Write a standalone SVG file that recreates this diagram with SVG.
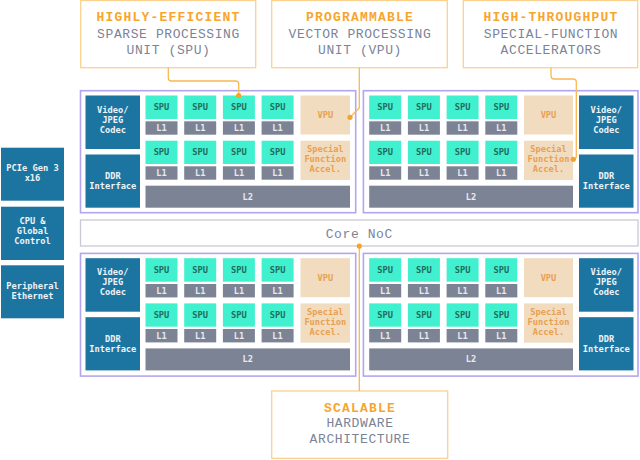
<svg xmlns="http://www.w3.org/2000/svg" width="640" height="460" viewBox="0 0 640 460">
<style>
text{font-family:"Liberation Mono","DejaVu Sans Mono",monospace;text-anchor:middle}
.co{fill:#fff;stroke:#fbd28f;stroke-width:1.3}
.ct{fill:#f7a52e;font-size:13px;font-weight:bold;letter-spacing:1.2px}
.cg{fill:#7b8397;font-size:13px;letter-spacing:0.6px}
.quad{fill:#fff;stroke:#b3a6ef;stroke-width:1.6}
.noc{fill:#fff;stroke:#c8cbd3;stroke-width:1.3}
.blue{fill:#1c75a0}
.bt,.st,.lt,.vt{font-family:"DejaVu Sans Mono","Liberation Mono",monospace;font-size:8.7px;font-weight:bold}
.bt{fill:#eef3f8}
.spu{fill:#40f0cf}
.st{fill:#236b5c}
.l{fill:#7c8394}
.lt{fill:#e8eaef}
.v{fill:#f1dcc0}
.vt{fill:#e9a04f}
.wire{fill:none;stroke:#f9b753;stroke-width:1.3}
.dot{fill:#f7a325}
</style>

<!-- callouts -->
<g id="callout-spu"><rect class="co" x="80.7" y="0.5" width="175" height="67.2"/>
<text class="ct" x="168.5" y="21">HIGHLY-EFFICIENT</text>
<text class="cg" x="168.5" y="37.7">SPARSE PROCESSING</text>
<text class="cg" x="168.5" y="54">UNIT (SPU)</text></g>
<g id="callout-vpu"><rect class="co" x="271.7" y="0.5" width="175.6" height="67.2"/>
<text class="ct" x="360" y="21">PROGRAMMABLE</text>
<text class="cg" x="360" y="37.7">VECTOR PROCESSING</text>
<text class="cg" x="360" y="54">UNIT (VPU)</text></g>
<g id="callout-sfa"><rect class="co" x="463.3" y="0.5" width="174.4" height="67.2"/>
<text class="ct" x="551" y="21">HIGH-THROUGHPUT</text>
<text class="cg" x="551" y="37.7">SPECIAL-FUNCTION</text>
<text class="cg" x="551" y="54">ACCELERATORS</text></g>
<g id="callout-scalable"><rect class="co" x="271.7" y="391" width="176" height="67.3"/>
<text class="ct" x="360" y="411.7">SCALABLE</text>
<text class="cg" x="360" y="427.3">HARDWARE</text>
<text class="cg" x="360" y="443.3">ARCHITECTURE</text></g>

<!-- left blocks -->
<g id="pcie"><rect class="blue" x="1" y="147.7" width="63" height="53"/>
<text class="bt" x="32.5" y="171">PCIe Gen 3</text><text class="bt" x="32.5" y="181">x16</text></g>
<g id="cpu"><rect class="blue" x="1" y="206.7" width="63" height="53.3"/>
<text class="bt" x="32.5" y="223.5">CPU &amp;</text><text class="bt" x="32.5" y="233.5">Global</text><text class="bt" x="32.5" y="243.5">Control</text></g>
<g id="peripheral"><rect class="blue" x="1" y="265.3" width="63" height="53"/>
<text class="bt" x="32.5" y="289">Peripheral</text><text class="bt" x="32.5" y="299">Ethernet</text></g>

<!-- Core NoC -->
<g id="core-noc"><rect class="noc" x="80.5" y="220" width="557.5" height="26"/>
<text class="cg" x="359.3" y="237.7">Core NoC</text></g>

<!-- Quadrant top-left -->
<g id="quad-tl"><rect class="quad" x="80.5" y="90.7" width="275.2" height="122"/></g>
<g id="tl-video"><rect class="blue" x="85.5" y="95.5" width="54.5" height="53.5"/><text class="bt" x="112.8" y="112.5">Video/</text><text class="bt" x="112.8" y="122.5">JPEG</text><text class="bt" x="112.8" y="132.5">Codec</text></g>
<g id="tl-ddr"><rect class="blue" x="85.5" y="154.5" width="54.5" height="53.2"/><text class="bt" x="112.8" y="179">DDR</text><text class="bt" x="112.8" y="189">Interface</text></g>
<g id="tl-spu1"><rect class="spu" x="145.5" y="95.5" width="32" height="23.5"/><text class="st" x="161.5" y="110.2">SPU</text></g>
<g id="tl-spu2"><rect class="spu" x="184.2" y="95.5" width="32" height="23.5"/><text class="st" x="200.2" y="110.2">SPU</text></g>
<g id="tl-spu3"><rect class="spu" x="222.9" y="95.5" width="32" height="23.5"/><text class="st" x="238.9" y="110.2">SPU</text></g>
<g id="tl-spu4"><rect class="spu" x="261.6" y="95.5" width="32" height="23.5"/><text class="st" x="277.6" y="110.2">SPU</text></g>
<g id="tl-l1a"><rect class="l" x="145.5" y="121.3" width="32" height="13.4"/><text class="lt" x="161.5" y="131">L1</text></g>
<g id="tl-l1b"><rect class="l" x="184.2" y="121.3" width="32" height="13.4"/><text class="lt" x="200.2" y="131">L1</text></g>
<g id="tl-l1c"><rect class="l" x="222.9" y="121.3" width="32" height="13.4"/><text class="lt" x="238.9" y="131">L1</text></g>
<g id="tl-l1d"><rect class="l" x="261.6" y="121.3" width="32" height="13.4"/><text class="lt" x="277.6" y="131">L1</text></g>
<g id="tl-spu5"><rect class="spu" x="145.5" y="140.7" width="32" height="23.3"/><text class="st" x="161.5" y="155.3">SPU</text></g>
<g id="tl-spu6"><rect class="spu" x="184.2" y="140.7" width="32" height="23.3"/><text class="st" x="200.2" y="155.3">SPU</text></g>
<g id="tl-spu7"><rect class="spu" x="222.9" y="140.7" width="32" height="23.3"/><text class="st" x="238.9" y="155.3">SPU</text></g>
<g id="tl-spu8"><rect class="spu" x="261.6" y="140.7" width="32" height="23.3"/><text class="st" x="277.6" y="155.3">SPU</text></g>
<g id="tl-l1e"><rect class="l" x="145.5" y="166.3" width="32" height="13.4"/><text class="lt" x="161.5" y="176">L1</text></g>
<g id="tl-l1f"><rect class="l" x="184.2" y="166.3" width="32" height="13.4"/><text class="lt" x="200.2" y="176">L1</text></g>
<g id="tl-l1g"><rect class="l" x="222.9" y="166.3" width="32" height="13.4"/><text class="lt" x="238.9" y="176">L1</text></g>
<g id="tl-l1h"><rect class="l" x="261.6" y="166.3" width="32" height="13.4"/><text class="lt" x="277.6" y="176">L1</text></g>
<g id="tl-vpu"><rect class="v" x="300.5" y="95.5" width="49.5" height="39"/><text class="vt" x="325.3" y="118">VPU</text></g>
<g id="tl-sfa"><rect class="v" x="300.5" y="140.7" width="49.5" height="39.3"/><text class="vt" x="325.3" y="152">Special</text><text class="vt" x="325.3" y="162">Function</text><text class="vt" x="325.3" y="172">Accel.</text></g>
<g id="tl-l2"><rect class="l" x="145.5" y="185.7" width="204.5" height="22"/><text class="lt" x="247.8" y="199.7">L2</text></g>

<!-- Quadrant top-right -->
<g id="quad-tr"><rect class="quad" x="363.4" y="90.7" width="274.6" height="122"/></g>
<g id="tr-spu1"><rect class="spu" x="369.2" y="95.5" width="32" height="23.5"/><text class="st" x="385.2" y="110.2">SPU</text></g>
<g id="tr-spu2"><rect class="spu" x="407.9" y="95.5" width="32" height="23.5"/><text class="st" x="423.9" y="110.2">SPU</text></g>
<g id="tr-spu3"><rect class="spu" x="446.6" y="95.5" width="32" height="23.5"/><text class="st" x="462.6" y="110.2">SPU</text></g>
<g id="tr-spu4"><rect class="spu" x="485.3" y="95.5" width="32" height="23.5"/><text class="st" x="501.3" y="110.2">SPU</text></g>
<g id="tr-l1a"><rect class="l" x="369.2" y="121.3" width="32" height="13.4"/><text class="lt" x="385.2" y="131">L1</text></g>
<g id="tr-l1b"><rect class="l" x="407.9" y="121.3" width="32" height="13.4"/><text class="lt" x="423.9" y="131">L1</text></g>
<g id="tr-l1c"><rect class="l" x="446.6" y="121.3" width="32" height="13.4"/><text class="lt" x="462.6" y="131">L1</text></g>
<g id="tr-l1d"><rect class="l" x="485.3" y="121.3" width="32" height="13.4"/><text class="lt" x="501.3" y="131">L1</text></g>
<g id="tr-spu5"><rect class="spu" x="369.2" y="140.7" width="32" height="23.3"/><text class="st" x="385.2" y="155.3">SPU</text></g>
<g id="tr-spu6"><rect class="spu" x="407.9" y="140.7" width="32" height="23.3"/><text class="st" x="423.9" y="155.3">SPU</text></g>
<g id="tr-spu7"><rect class="spu" x="446.6" y="140.7" width="32" height="23.3"/><text class="st" x="462.6" y="155.3">SPU</text></g>
<g id="tr-spu8"><rect class="spu" x="485.3" y="140.7" width="32" height="23.3"/><text class="st" x="501.3" y="155.3">SPU</text></g>
<g id="tr-l1e"><rect class="l" x="369.2" y="166.3" width="32" height="13.4"/><text class="lt" x="385.2" y="176">L1</text></g>
<g id="tr-l1f"><rect class="l" x="407.9" y="166.3" width="32" height="13.4"/><text class="lt" x="423.9" y="176">L1</text></g>
<g id="tr-l1g"><rect class="l" x="446.6" y="166.3" width="32" height="13.4"/><text class="lt" x="462.6" y="176">L1</text></g>
<g id="tr-l1h"><rect class="l" x="485.3" y="166.3" width="32" height="13.4"/><text class="lt" x="501.3" y="176">L1</text></g>
<g id="tr-vpu"><rect class="v" x="524" y="95.5" width="49" height="39"/><text class="vt" x="548.5" y="118">VPU</text></g>
<g id="tr-sfa"><rect class="v" x="524" y="140.7" width="49" height="39.3"/><text class="vt" x="548.5" y="152">Special</text><text class="vt" x="548.5" y="162">Function</text><text class="vt" x="548.5" y="172">Accel.</text></g>
<g id="tr-l2"><rect class="l" x="369.2" y="185.7" width="203.8" height="22"/><text class="lt" x="471.1" y="199.7">L2</text></g>
<g id="tr-video"><rect class="blue" x="579" y="95.5" width="54.5" height="53.5"/><text class="bt" x="606.3" y="112.5">Video/</text><text class="bt" x="606.3" y="122.5">JPEG</text><text class="bt" x="606.3" y="132.5">Codec</text></g>
<g id="tr-ddr"><rect class="blue" x="579" y="154.5" width="54.5" height="53.2"/><text class="bt" x="606.3" y="179">DDR</text><text class="bt" x="606.3" y="189">Interface</text></g>

<!-- Quadrant bottom-left (offset 162.7) -->
<g transform="translate(0,162.7)">
<g id="quad-bl"><rect class="quad" x="80.5" y="90.7" width="275.2" height="122.7"/></g>
<g id="bl-video"><rect class="blue" x="85.5" y="95.5" width="54.5" height="53.5"/><text class="bt" x="112.8" y="112.5">Video/</text><text class="bt" x="112.8" y="122.5">JPEG</text><text class="bt" x="112.8" y="132.5">Codec</text></g>
<g id="bl-ddr"><rect class="blue" x="85.5" y="154.5" width="54.5" height="53.2"/><text class="bt" x="112.8" y="179">DDR</text><text class="bt" x="112.8" y="189">Interface</text></g>
<g id="bl-spu1"><rect class="spu" x="145.5" y="95.5" width="32" height="23.5"/><text class="st" x="161.5" y="110.2">SPU</text></g>
<g id="bl-spu2"><rect class="spu" x="184.2" y="95.5" width="32" height="23.5"/><text class="st" x="200.2" y="110.2">SPU</text></g>
<g id="bl-spu3"><rect class="spu" x="222.9" y="95.5" width="32" height="23.5"/><text class="st" x="238.9" y="110.2">SPU</text></g>
<g id="bl-spu4"><rect class="spu" x="261.6" y="95.5" width="32" height="23.5"/><text class="st" x="277.6" y="110.2">SPU</text></g>
<g id="bl-l1a"><rect class="l" x="145.5" y="121.3" width="32" height="13.4"/><text class="lt" x="161.5" y="131">L1</text></g>
<g id="bl-l1b"><rect class="l" x="184.2" y="121.3" width="32" height="13.4"/><text class="lt" x="200.2" y="131">L1</text></g>
<g id="bl-l1c"><rect class="l" x="222.9" y="121.3" width="32" height="13.4"/><text class="lt" x="238.9" y="131">L1</text></g>
<g id="bl-l1d"><rect class="l" x="261.6" y="121.3" width="32" height="13.4"/><text class="lt" x="277.6" y="131">L1</text></g>
<g id="bl-spu5"><rect class="spu" x="145.5" y="140.7" width="32" height="23.3"/><text class="st" x="161.5" y="155.3">SPU</text></g>
<g id="bl-spu6"><rect class="spu" x="184.2" y="140.7" width="32" height="23.3"/><text class="st" x="200.2" y="155.3">SPU</text></g>
<g id="bl-spu7"><rect class="spu" x="222.9" y="140.7" width="32" height="23.3"/><text class="st" x="238.9" y="155.3">SPU</text></g>
<g id="bl-spu8"><rect class="spu" x="261.6" y="140.7" width="32" height="23.3"/><text class="st" x="277.6" y="155.3">SPU</text></g>
<g id="bl-l1e"><rect class="l" x="145.5" y="166.3" width="32" height="13.4"/><text class="lt" x="161.5" y="176">L1</text></g>
<g id="bl-l1f"><rect class="l" x="184.2" y="166.3" width="32" height="13.4"/><text class="lt" x="200.2" y="176">L1</text></g>
<g id="bl-l1g"><rect class="l" x="222.9" y="166.3" width="32" height="13.4"/><text class="lt" x="238.9" y="176">L1</text></g>
<g id="bl-l1h"><rect class="l" x="261.6" y="166.3" width="32" height="13.4"/><text class="lt" x="277.6" y="176">L1</text></g>
<g id="bl-vpu"><rect class="v" x="300.5" y="95.5" width="49.5" height="39"/><text class="vt" x="325.3" y="118">VPU</text></g>
<g id="bl-sfa"><rect class="v" x="300.5" y="140.7" width="49.5" height="39.3"/><text class="vt" x="325.3" y="152">Special</text><text class="vt" x="325.3" y="162">Function</text><text class="vt" x="325.3" y="172">Accel.</text></g>
<g id="bl-l2"><rect class="l" x="145.5" y="185.7" width="204.5" height="22"/><text class="lt" x="247.8" y="199.7">L2</text></g>
</g>

<!-- Quadrant bottom-right -->
<g transform="translate(0,162.7)">
<g id="quad-br"><rect class="quad" x="363.4" y="90.7" width="274.6" height="122.7"/></g>
<g id="br-spu1"><rect class="spu" x="369.2" y="95.5" width="32" height="23.5"/><text class="st" x="385.2" y="110.2">SPU</text></g>
<g id="br-spu2"><rect class="spu" x="407.9" y="95.5" width="32" height="23.5"/><text class="st" x="423.9" y="110.2">SPU</text></g>
<g id="br-spu3"><rect class="spu" x="446.6" y="95.5" width="32" height="23.5"/><text class="st" x="462.6" y="110.2">SPU</text></g>
<g id="br-spu4"><rect class="spu" x="485.3" y="95.5" width="32" height="23.5"/><text class="st" x="501.3" y="110.2">SPU</text></g>
<g id="br-l1a"><rect class="l" x="369.2" y="121.3" width="32" height="13.4"/><text class="lt" x="385.2" y="131">L1</text></g>
<g id="br-l1b"><rect class="l" x="407.9" y="121.3" width="32" height="13.4"/><text class="lt" x="423.9" y="131">L1</text></g>
<g id="br-l1c"><rect class="l" x="446.6" y="121.3" width="32" height="13.4"/><text class="lt" x="462.6" y="131">L1</text></g>
<g id="br-l1d"><rect class="l" x="485.3" y="121.3" width="32" height="13.4"/><text class="lt" x="501.3" y="131">L1</text></g>
<g id="br-spu5"><rect class="spu" x="369.2" y="140.7" width="32" height="23.3"/><text class="st" x="385.2" y="155.3">SPU</text></g>
<g id="br-spu6"><rect class="spu" x="407.9" y="140.7" width="32" height="23.3"/><text class="st" x="423.9" y="155.3">SPU</text></g>
<g id="br-spu7"><rect class="spu" x="446.6" y="140.7" width="32" height="23.3"/><text class="st" x="462.6" y="155.3">SPU</text></g>
<g id="br-spu8"><rect class="spu" x="485.3" y="140.7" width="32" height="23.3"/><text class="st" x="501.3" y="155.3">SPU</text></g>
<g id="br-l1e"><rect class="l" x="369.2" y="166.3" width="32" height="13.4"/><text class="lt" x="385.2" y="176">L1</text></g>
<g id="br-l1f"><rect class="l" x="407.9" y="166.3" width="32" height="13.4"/><text class="lt" x="423.9" y="176">L1</text></g>
<g id="br-l1g"><rect class="l" x="446.6" y="166.3" width="32" height="13.4"/><text class="lt" x="462.6" y="176">L1</text></g>
<g id="br-l1h"><rect class="l" x="485.3" y="166.3" width="32" height="13.4"/><text class="lt" x="501.3" y="176">L1</text></g>
<g id="br-vpu"><rect class="v" x="524" y="95.5" width="49" height="39"/><text class="vt" x="548.5" y="118">VPU</text></g>
<g id="br-sfa"><rect class="v" x="524" y="140.7" width="49" height="39.3"/><text class="vt" x="548.5" y="152">Special</text><text class="vt" x="548.5" y="162">Function</text><text class="vt" x="548.5" y="172">Accel.</text></g>
<g id="br-l2"><rect class="l" x="369.2" y="185.7" width="203.8" height="22"/><text class="lt" x="471.1" y="199.7">L2</text></g>
<g id="br-video"><rect class="blue" x="579" y="95.5" width="54.5" height="53.5"/><text class="bt" x="606.3" y="112.5">Video/</text><text class="bt" x="606.3" y="122.5">JPEG</text><text class="bt" x="606.3" y="132.5">Codec</text></g>
<g id="br-ddr"><rect class="blue" x="579" y="154.5" width="54.5" height="53.2"/><text class="bt" x="606.3" y="179">DDR</text><text class="bt" x="606.3" y="189">Interface</text></g>
</g>

<!-- connectors -->
<g id="connectors">
<path class="wire" d="M168.3,67.7 V78 Q168.3,81 171.3,81 H235.7 Q238.7,81 238.7,84 V95.5"/>
<circle class="dot" cx="238.7" cy="95.5" r="2.6"/>
<path class="wire" d="M359.3,67.7 V108 L350,117.3"/>
<circle class="dot" cx="350" cy="117.3" r="2.6"/>
<path class="wire" d="M551,67.7 V76 Q551,79 554,79 H573 Q576.3,79 576.3,82 V156 Q576.3,159.3 573.3,159.3"/>
<circle class="dot" cx="573.3" cy="159.3" r="2.6"/>
<path class="wire" d="M359.3,246 V391"/>
<circle class="dot" cx="359.3" cy="246" r="2.6"/>
</g>
</svg>
